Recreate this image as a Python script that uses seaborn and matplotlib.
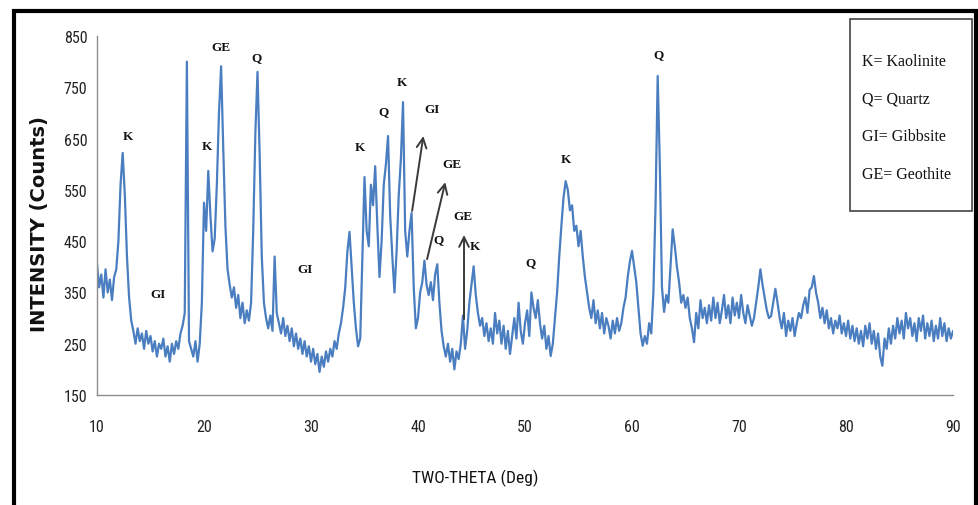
import numpy as np
import pandas as pd
import seaborn as sns
import matplotlib
matplotlib.use("Agg")
import matplotlib.pyplot as plt
from matplotlib import font_manager
from matplotlib.patches import Rectangle

# ---- diffractogram: intensity every 0.2 deg two-theta, 10 .. 90 ----
two_theta = np.round(np.arange(10.0, 90.0001, 0.2), 1)

intensity = [
    405, 360, 385, 340, 395,   # 10
    350, 375, 335, 380, 395,   # 11
    450, 560, 622, 540, 420,   # 12
    340, 295, 275, 250, 280,   # 13
    255, 270, 240, 275, 250,   # 14
    265, 235, 255, 225, 250,   # 15
    240, 260, 225, 245, 215,   # 16
    250, 230, 255, 240, 270,   # 17
    285, 310, 800, 255, 240,   # 18
    225, 255, 215, 250, 330,   # 19
    525, 470, 587, 500, 430,   # 20
    455, 560, 700, 791, 630,   # 21
    480, 395, 365, 340, 360,   # 22
    320, 345, 300, 330, 290,   # 23
    315, 295, 330, 470, 660,   # 24
    780, 620, 420, 330, 300,   # 25
    280, 305, 275, 420, 310,   # 26
    290, 270, 300, 265, 285,   # 27
    255, 280, 245, 270, 240,   # 28
    260, 230, 255, 225, 245,   # 29
    215, 240, 210, 230, 195,   # 30
    225, 205, 235, 215, 240,   # 31
    225, 255, 240, 270, 290,   # 32
    320, 360, 430, 468, 400,   # 33
    330, 280, 245, 260, 420,   # 34
    575, 470, 440, 560, 520,   # 35
    596, 480, 380, 450, 560,   # 36
    600, 655, 500, 420, 350,   # 37
    430, 540, 610, 721, 470,   # 38
    420, 470, 505, 360, 280,   # 39
    300, 350, 370, 412, 365,   # 40
    345, 370, 335, 385, 405,   # 41
    330, 275, 245, 225, 250,   # 42
    215, 240, 200, 235, 220,   # 43
    250, 305, 240, 275, 330,   # 44
    365, 401, 345, 310, 285,   # 45
    300, 265, 290, 255, 280,   # 46
    250, 310, 270, 295, 250,   # 47
    285, 240, 275, 230, 265,   # 48
    300, 260, 330, 275, 250,   # 49
    290, 315, 265, 350, 320,   # 50
    300, 335, 290, 260, 285,   # 51
    240, 265, 226, 250, 300,   # 52
    350, 420, 480, 535, 567,   # 53
    550, 510, 520, 470, 480,   # 54
    440, 470, 420, 380, 350,   # 55
    320, 300, 335, 290, 315,   # 56
    280, 310, 270, 300, 285,   # 57
    260, 295, 270, 300, 275,   # 58
    290, 320, 340, 380, 410,   # 59
    431, 400, 370, 320, 270,   # 60
    246, 265, 250, 290, 270,   # 61
    350, 520, 772, 600, 360,   # 62
    312, 345, 330, 400, 473,   # 63
    440, 400, 370, 330, 345,   # 64
    320, 340, 300, 280, 253,   # 65
    310, 280, 335, 300, 320,   # 66
    290, 325, 295, 340, 300,   # 67
    330, 290, 315, 345, 300,   # 68
    325, 290, 340, 305, 330,   # 69
    300, 345, 310, 290, 325,   # 70
    305, 285, 300, 330, 360,   # 71
    395, 365, 340, 315, 300,   # 72
    304, 330, 357, 330, 300,   # 73
    280, 310, 265, 295, 275,   # 74
    300, 265, 290, 310, 300,   # 75
    325, 340, 310, 355, 360,   # 76
    382, 350, 330, 300, 320,   # 77
    290, 315, 280, 300, 270,   # 78
    295, 280, 305, 270, 290,   # 79
    265, 295, 260, 285, 255,   # 80
    280, 250, 275, 245, 285,   # 81
    260, 290, 250, 275, 240,   # 82
    270, 225, 207, 260, 240,   # 83
    280, 250, 285, 260, 300,   # 84
    270, 295, 260, 310, 280,   # 85
    300, 265, 290, 255, 300,   # 86
    275, 305, 260, 290, 265,   # 87
    295, 255, 285, 260, 300,   # 88
    265, 290, 255, 280, 260,   # 89
    275,                       # 90
]

x_ticks = [10, 20, 30, 40, 50, 60, 70, 80, 90]
y_ticks = [150, 250, 350, 450, 550, 650, 750, 850]

# phase markers above the reflections
phase_labels = ["K", "GI", "K", "GE", "Q", "GI", "K", "Q", "K",
                "GI", "GE", "Q", "GE", "K", "Q", "K", "Q"]
phase_label_xy = [(12.9, 655), (15.7, 347), (20.3, 635), (21.6, 828),
                  (24.95, 809), (29.45, 396), (34.6, 633), (36.75, 704),
                  (38.5, 760), (41.3, 707), (43.2, 600), (41.9, 454),
                  (44.2, 499), (45.35, 440), (50.55, 409), (53.85, 610),
                  (62.5, 815)]
# arrows pointing from the reflection to its marker
arrow_tails = [(39.45, 509), (40.85, 415), (44.3, 298)]
arrow_heads = [(40.5, 655), (42.55, 565), (44.3, 462)]

legend_lines = ["K= Kaolinite", "Q= Quartz", "GI= Gibbsite", "GE= Geothite"]


def pick_font(candidates):
    names = {f.name for f in font_manager.fontManager.ttflist}
    for c in candidates:
        if c in names:
            return c
    return "DejaVu Sans"


narrow = pick_font(["Liberation Sans Narrow", "Roboto Condensed", "Open Sans Condensed",
                    "Liberation Sans"])
serif = pick_font(["Liberation Serif", "DejaVu Serif"])

sns.set_style("white")
plt.rcParams["font.family"] = [narrow, "DejaVu Sans"]

W, H = 979, 506
fig = plt.figure(figsize=(W / 100, H / 100), dpi=100)
ax = fig.add_axes([97 / W, 1 - 396 / H, (953 - 97) / W, (396 - 37) / H])

df = pd.DataFrame({"two_theta": two_theta, "intensity": intensity})
sns.lineplot(data=df, x="two_theta", y="intensity", ax=ax, color="#4A7EC0",
             linewidth=1.6, estimator=None, sort=True)

ax.set_xlim(10, 90)
ax.set_ylim(150, 850)
ax.set_xticks(x_ticks)
ax.set_yticks(y_ticks)
ax.set_xticklabels([str(v) for v in x_ticks])
ax.set_yticklabels([str(v) for v in y_ticks])
ax.tick_params(axis="x", length=0, pad=17, labelsize=11.5, colors="#222222")
ax.tick_params(axis="y", length=0, pad=7, labelsize=11.5, colors="#222222")
ax.set_xlabel("")
ax.set_ylabel("")
for side in ("top", "right"):
    ax.spines[side].set_visible(False)
for side in ("left", "bottom"):
    ax.spines[side].set_color("#8C8C8C")
    ax.spines[side].set_linewidth(1.0)
ax.patch.set_alpha(0)

for lab, (lx, ly) in zip(phase_labels, phase_label_xy):
    ax.text(lx, ly, lab, ha="center", va="center", fontsize=9.5,
            family=serif, fontweight="bold", color="#111111")

for (tx, ty), (hx, hy) in zip(arrow_tails, arrow_heads):
    ax.annotate("", xy=(hx, hy), xytext=(tx, ty),
                arrowprops=dict(arrowstyle="->,head_length=0.7,head_width=0.35",
                                color="#3A3A3A", lw=1.4, shrinkA=0, shrinkB=0))

# axis titles
fig.text(475 / W, 1 - 478 / H, "TWO-THETA (Deg)", ha="center", va="center",
         fontsize=12.5, color="#111111")
fig.text(40 / W, 1 - 224 / H, "INTENSITY (Counts)", ha="center", va="center",
         rotation=90, fontsize=14, fontweight="bold", family="DejaVu Sans",
         color="#111111")

# key box
fig.patches.append(Rectangle((850 / W, 1 - 212 / H), 122 / W, 192 / H,
                             transform=fig.transFigure, fill=False,
                             edgecolor="#444444", linewidth=1.2))
for i, line in enumerate(legend_lines):
    fig.text(862 / W, 1 - (62 + 37.7 * i) / H, line, ha="left", va="center",
             fontsize=11.5, family=serif, color="#111111")

# outer frame
fig.patches.append(Rectangle((14 / W, -0.05), (976 - 14) / W, 1.05 - 12 / H,
                             transform=fig.transFigure, fill=False,
                             edgecolor="black", linewidth=3.0))

fig.savefig("out.png", dpi=100)
